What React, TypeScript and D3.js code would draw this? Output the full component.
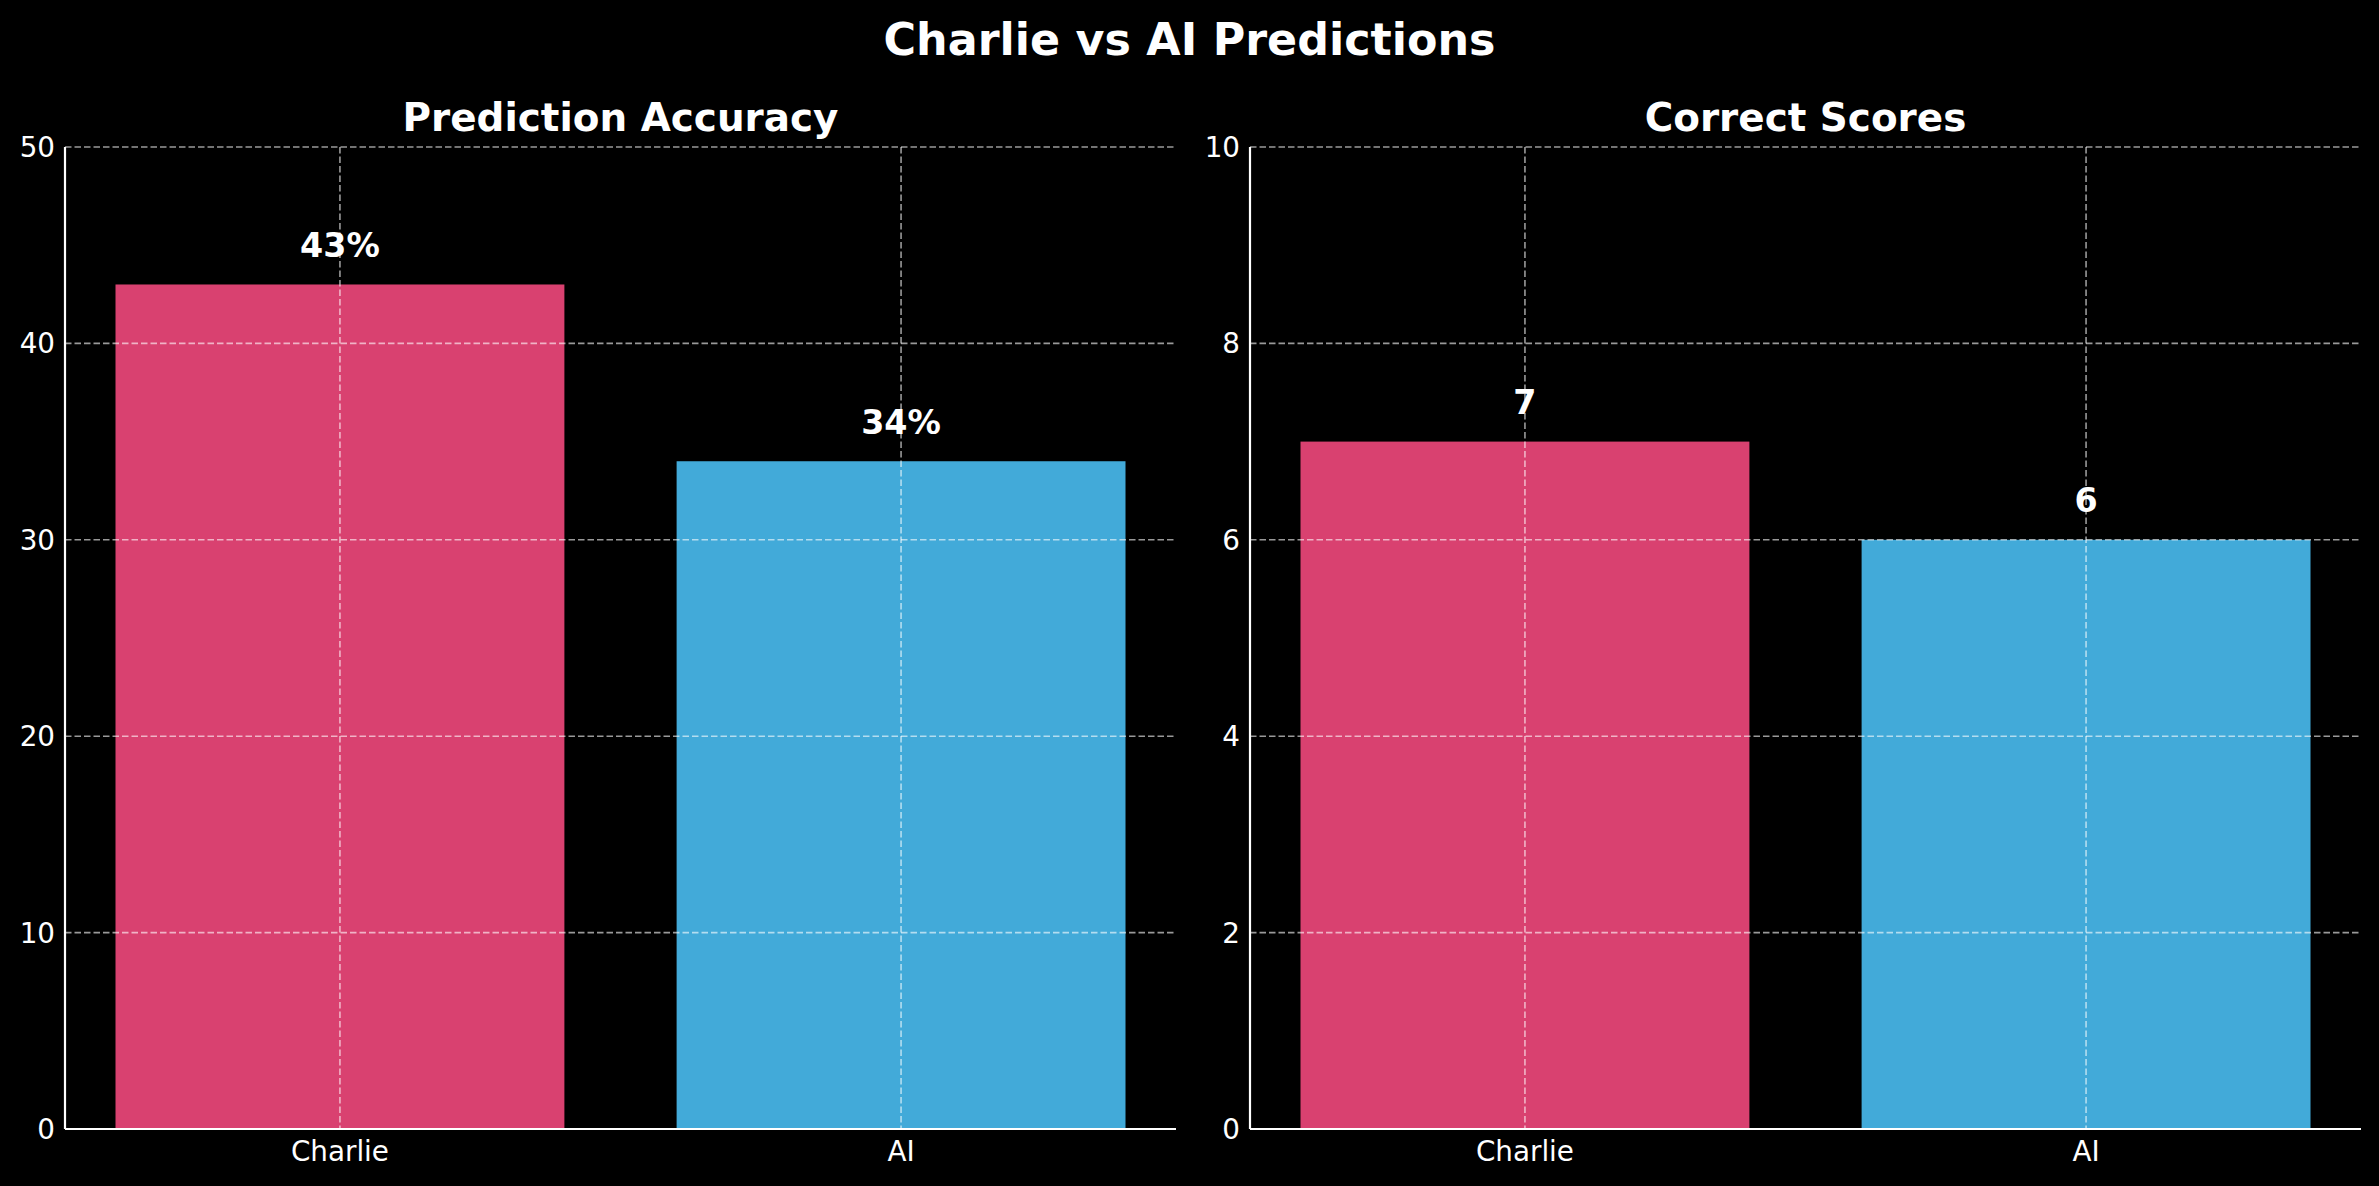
import React from "react";
import * as d3 from "d3";

const categories = ["Charlie", "AI"];
const accuracyValues = [43, 34];
const correctScoreValues = [7, 6];
const accuracyTicks = [0, 10, 20, 30, 40, 50];
const scoreTicks = [0, 2, 4, 6, 8, 10];
const barColors = ["#D94170", "#42AAD9"];

const W = 2379;
const H = 1186;
const FONT = "'DejaVu Sans', sans-serif";

type PanelProps = {
  x0: number;
  x1: number;
  y0: number;
  y1: number;
  title: string;
  values: number[];
  ticks: number[];
  yMax: number;
  labelOffset: number;
  fmt: (v: number) => string;
};

function Panel({ x0, x1, y0, y1, title, values, ticks, yMax, labelOffset, fmt }: PanelProps) {
  const x = d3.scaleLinear().domain([-0.49, 1.49]).range([x0, x1]);
  const y = d3.scaleLinear().domain([0, yMax]).range([y1, y0]);
  const bw = x(0.4) - x(-0.4);
  const gridStyle = {
    stroke: "#ffffff",
    strokeOpacity: 0.6,
    strokeWidth: 1.6,
    strokeDasharray: "6.5,3",
  };
  return (
    <g>
      {values.map((v, i) => (
        <rect
          key={"b" + i}
          x={x(i) - bw / 2}
          y={y(v)}
          width={bw}
          height={y(0) - y(v)}
          fill={barColors[i]}
        />
      ))}
      {ticks.map((t) => (
        <line key={"gy" + t} x1={x0} x2={x1} y1={y(t)} y2={y(t)} style={gridStyle} />
      ))}
      {categories.map((c, i) => (
        <line key={"gx" + c} x1={x(i)} x2={x(i)} y1={y0} y2={y1} style={gridStyle} />
      ))}
      <line x1={x0} x2={x0} y1={y0} y2={y1} stroke="#fff" strokeWidth={2.2} />
      <line x1={x0} x2={x1} y1={y1} y2={y1} stroke="#fff" strokeWidth={2.2} />
      {ticks.map((t) => (
        <text
          key={"ty" + t}
          x={x0 - 10}
          y={y(t) + 10}
          textAnchor="end"
          fill="#fff"
          fontFamily={FONT}
          fontSize={27.8}
        >
          {t}
        </text>
      ))}
      {categories.map((c, i) => (
        <text
          key={"tx" + c}
          x={x(i)}
          y={1161}
          textAnchor="middle"
          fill="#fff"
          fontFamily={FONT}
          fontSize={27.8}
        >
          {c}
        </text>
      ))}
      {values.map((v, i) => (
        <text
          key={"l" + i}
          x={x(i)}
          y={y(v + labelOffset) - 8}
          textAnchor="middle"
          fill="#fff"
          fontFamily={FONT}
          fontWeight="bold"
          fontSize={33.3}
        >
          {fmt(v)}
        </text>
      ))}
      <text
        x={(x0 + x1) / 2}
        y={y0 - 16.5}
        textAnchor="middle"
        fill="#fff"
        fontFamily={FONT}
        fontWeight="bold"
        fontSize={38.9}
      >
        {title}
      </text>
    </g>
  );
}

export default function App() {
  return (
    <svg
      width={W}
      height={H}
      style={{ position: "absolute", left: 0, top: 0, display: "block", background: "#000" }}
    >
      <rect x={0} y={0} width={W} height={H} fill="#000" />
      <text
        x={W / 2}
        y={55}
        textAnchor="middle"
        fill="#fff"
        fontFamily={FONT}
        fontWeight="bold"
        fontSize={44.4}
      >
        Charlie vs AI Predictions
      </text>
      <Panel
        x0={65}
        x1={1176}
        y0={147}
        y1={1129}
        title="Prediction Accuracy"
        values={accuracyValues}
        ticks={accuracyTicks}
        yMax={50}
        labelOffset={1}
        fmt={(v) => `${v}%`}
      />
      <Panel
        x0={1250}
        x1={2361}
        y0={147}
        y1={1129}
        title="Correct Scores"
        values={correctScoreValues}
        ticks={scoreTicks}
        yMax={10}
        labelOffset={0.2}
        fmt={(v) => `${v}`}
      />
    </svg>
  );
}
